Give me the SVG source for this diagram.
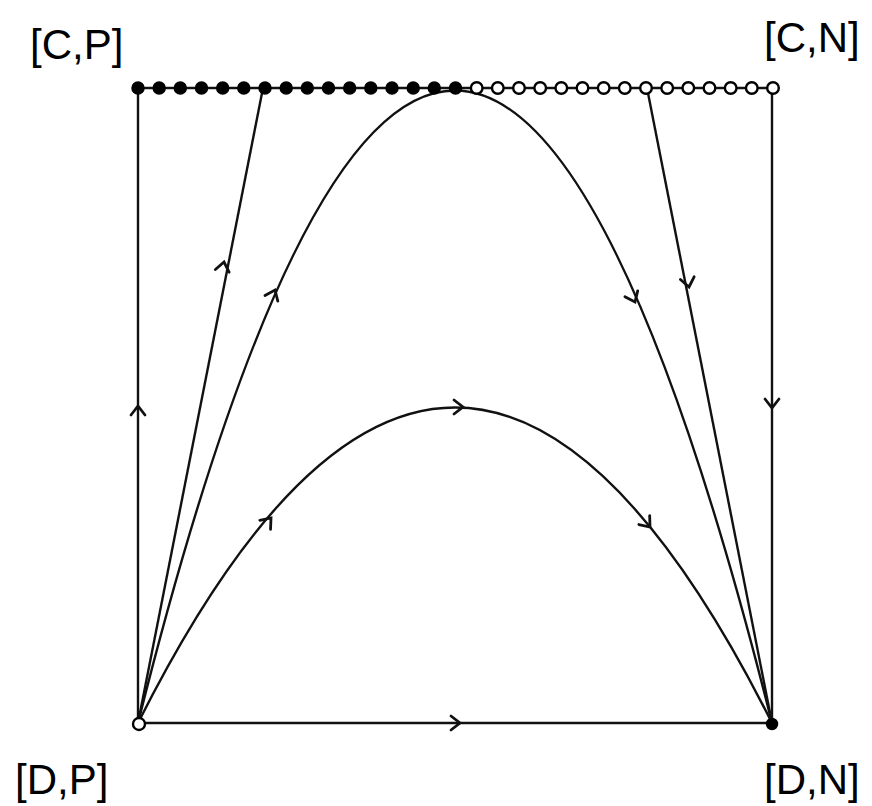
<svg xmlns="http://www.w3.org/2000/svg" xmlns:xlink="http://www.w3.org/1999/xlink" width="872" height="806" viewBox="0 0 872 806">
<style>
.ln{fill:none;stroke:#111;stroke-width:2.4}
.ar{fill:none;stroke:#111;stroke-width:2.8;stroke-linecap:round;stroke-linejoin:miter}
.fd{fill:#000;stroke:#000;stroke-width:1.5}
.od{fill:#fff;stroke:#000;stroke-width:2.4}
.lb{font-family:"Liberation Sans",Arial,sans-serif;font-size:42px;fill:#000}
</style>
<defs>
<path id="chev" d="M-9,-7 L0,0 L-9,7" class="ar"/>
</defs>
<rect width="872" height="806" fill="#fff"/>
<g id="connectors">
<path id="e-left" class="ln" d="M138,723 L138,88"/>
<path id="e-line2" class="ln" d="M138,723 L263,88"/>
<path id="e-big" class="ln" d="M138,723 Q455,-542 772,723"/>
<path id="e-line4" class="ln" d="M647,88 L772,723"/>
<path id="e-right" class="ln" d="M772,88 L772,723"/>
<path id="e-low" class="ln" d="M138,723 Q455,92 772,723"/>
<path id="e-bottom" class="ln" d="M138,723 L772,723"/>
<use xlink:href="#chev" transform="translate(138,406) rotate(-90)"/>
<use xlink:href="#chev" transform="translate(224,262) rotate(-78.85)"/>
<use xlink:href="#chev" transform="translate(275,290) rotate(-66.5)"/>
<use xlink:href="#chev" transform="translate(635,302) rotate(65.8)"/>
<use xlink:href="#chev" transform="translate(689,287) rotate(78.85)"/>
<use xlink:href="#chev" transform="translate(772,408) rotate(90)"/>
<use xlink:href="#chev" transform="translate(271,518) rotate(-49.7)"/>
<use xlink:href="#chev" transform="translate(463,407) rotate(0)"/>
<use xlink:href="#chev" transform="translate(650,527) rotate(50.4)"/>
<use xlink:href="#chev" transform="translate(460,723) rotate(0)"/>
</g>
<g id="top-row">
<path class="ln" d="M138,88 L773,88"/>
<g id="filled-dots">
<circle class="fd" cx="138" cy="88" r="6"/>
<circle class="fd" cx="159.2" cy="88" r="6"/>
<circle class="fd" cx="180.3" cy="88" r="6"/>
<circle class="fd" cx="201.5" cy="88" r="6"/>
<circle class="fd" cx="222.7" cy="88" r="6"/>
<circle class="fd" cx="243.8" cy="88" r="6"/>
<circle class="fd" cx="265" cy="88" r="6"/>
<circle class="fd" cx="286.2" cy="88" r="6"/>
<circle class="fd" cx="307.3" cy="88" r="6"/>
<circle class="fd" cx="328.5" cy="88" r="6"/>
<circle class="fd" cx="349.7" cy="88" r="6"/>
<circle class="fd" cx="370.8" cy="88" r="6"/>
<circle class="fd" cx="392" cy="88" r="6"/>
<circle class="fd" cx="413.2" cy="88" r="6"/>
<circle class="fd" cx="434.3" cy="88" r="6"/>
<circle class="fd" cx="455.5" cy="88" r="6"/>
</g>
<g id="open-dots">
<circle class="od" cx="476.7" cy="88" r="5.8"/>
<circle class="od" cx="497.8" cy="88" r="5.8"/>
<circle class="od" cx="519" cy="88" r="5.8"/>
<circle class="od" cx="540.2" cy="88" r="5.8"/>
<circle class="od" cx="561.3" cy="88" r="5.8"/>
<circle class="od" cx="582.5" cy="88" r="5.8"/>
<circle class="od" cx="603.7" cy="88" r="5.8"/>
<circle class="od" cx="624.8" cy="88" r="5.8"/>
<circle class="od" cx="646" cy="88" r="5.8"/>
<circle class="od" cx="667.2" cy="88" r="5.8"/>
<circle class="od" cx="688.3" cy="88" r="5.8"/>
<circle class="od" cx="709.5" cy="88" r="5.8"/>
<circle class="od" cx="730.7" cy="88" r="5.8"/>
<circle class="od" cx="751.8" cy="88" r="5.8"/>
<circle class="od" cx="773" cy="88" r="5.8"/>
</g>
</g>
<g id="node-DP">
<circle class="od" cx="139" cy="724" r="6"/>
<text class="lb" x="15" y="794">[D,P]</text>
</g>
<g id="node-DN">
<circle class="fd" cx="772" cy="724" r="5.5"/>
<text class="lb" x="764" y="794">[D,N]</text>
</g>
<g id="node-CP">
<text class="lb" x="30" y="59">[C,P]</text>
</g>
<g id="node-CN">
<text class="lb" x="764" y="52">[C,N]</text>
</g>
</svg>
